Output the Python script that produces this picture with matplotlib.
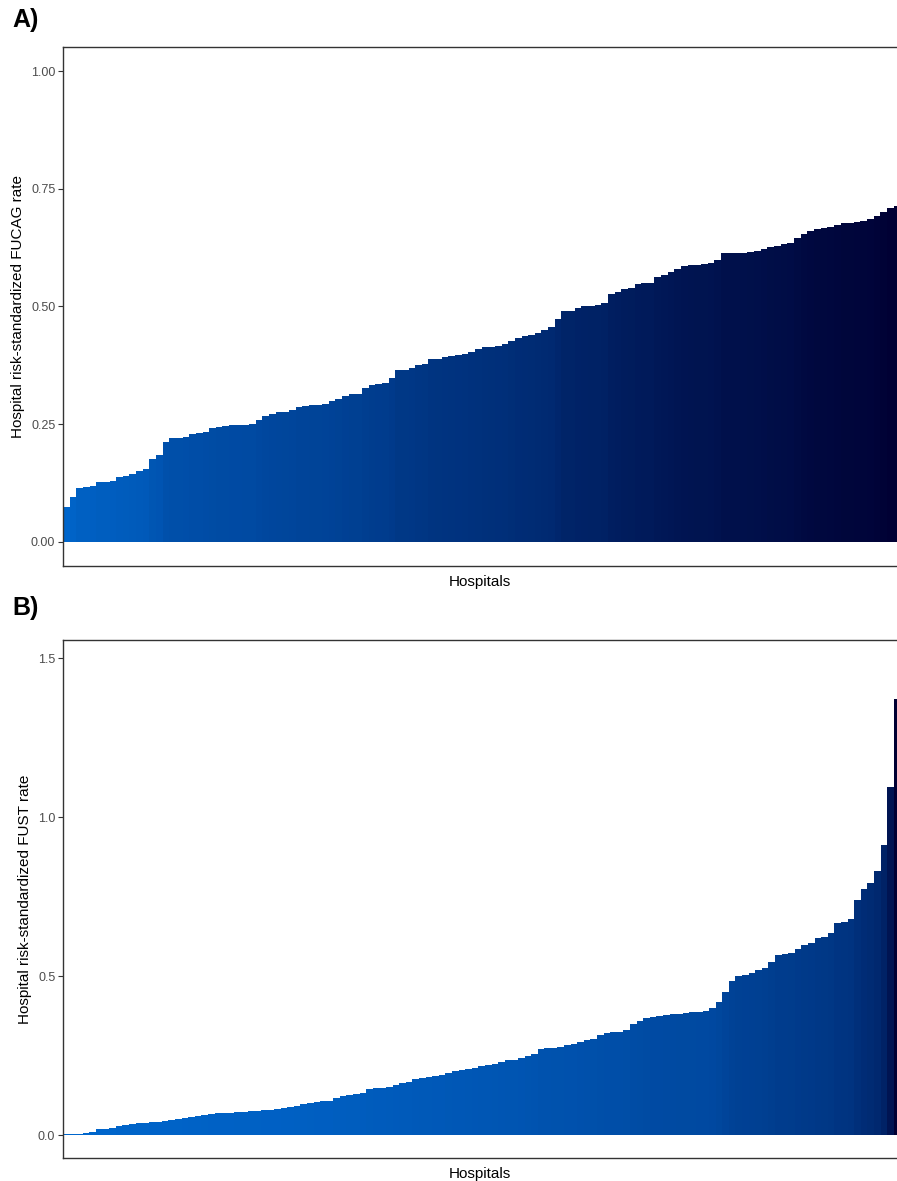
import numpy as np
import matplotlib
matplotlib.use("Agg")
import matplotlib.pyplot as plt
from matplotlib.colors import LinearSegmentedColormap, Normalize

plt.rcParams['font.family'] = ['Liberation Sans', 'DejaVu Sans']

# Panel A: hospital risk-standardized FUCAG rate (sorted)
fucag = [0.074, 0.096, 0.114, 0.116, 0.118, 0.127, 0.128, 0.130, 0.137, 0.140,
         0.145, 0.151, 0.154, 0.177, 0.184, 0.213, 0.220, 0.221, 0.223, 0.229,
         0.231, 0.234, 0.241, 0.245, 0.246, 0.248, 0.248, 0.249, 0.250, 0.260,
         0.268, 0.272, 0.275, 0.277, 0.280, 0.287, 0.289, 0.290, 0.291, 0.293,
         0.299, 0.303, 0.310, 0.314, 0.314, 0.326, 0.333, 0.335, 0.337, 0.348,
         0.366, 0.366, 0.369, 0.375, 0.377, 0.388, 0.389, 0.393, 0.395, 0.398,
         0.400, 0.404, 0.409, 0.413, 0.415, 0.417, 0.420, 0.427, 0.434, 0.438,
         0.440, 0.444, 0.450, 0.456, 0.473, 0.490, 0.491, 0.497, 0.500, 0.502,
         0.503, 0.507, 0.526, 0.531, 0.537, 0.539, 0.547, 0.549, 0.550, 0.563,
         0.567, 0.574, 0.580, 0.586, 0.588, 0.589, 0.590, 0.593, 0.599, 0.613,
         0.613, 0.613, 0.613, 0.616, 0.618, 0.622, 0.627, 0.629, 0.632, 0.635,
         0.645, 0.654, 0.660, 0.664, 0.666, 0.668, 0.672, 0.677, 0.677, 0.680,
         0.682, 0.686, 0.693, 0.700, 0.709, 0.714]

# Panel B: hospital risk-standardized FUST rate (sorted)
fust = [0.002, 0.003, 0.004, 0.008, 0.011, 0.018, 0.018, 0.023, 0.029, 0.031,
        0.035, 0.037, 0.039, 0.041, 0.042, 0.043, 0.047, 0.050, 0.054, 0.056,
        0.059, 0.063, 0.067, 0.069, 0.070, 0.071, 0.073, 0.074, 0.075, 0.076,
        0.078, 0.080, 0.082, 0.084, 0.087, 0.090, 0.097, 0.100, 0.105, 0.107,
        0.107, 0.118, 0.123, 0.126, 0.128, 0.131, 0.144, 0.149, 0.149, 0.152,
        0.159, 0.164, 0.167, 0.177, 0.180, 0.183, 0.186, 0.188, 0.196, 0.201,
        0.204, 0.208, 0.212, 0.217, 0.220, 0.224, 0.230, 0.235, 0.235, 0.241,
        0.248, 0.254, 0.270, 0.273, 0.275, 0.277, 0.283, 0.285, 0.293, 0.298,
        0.302, 0.314, 0.322, 0.324, 0.325, 0.332, 0.350, 0.358, 0.369, 0.372,
        0.375, 0.378, 0.380, 0.382, 0.385, 0.386, 0.388, 0.390, 0.400, 0.420,
        0.451, 0.484, 0.500, 0.505, 0.511, 0.518, 0.526, 0.544, 0.566, 0.568,
        0.573, 0.586, 0.597, 0.605, 0.619, 0.623, 0.636, 0.668, 0.670, 0.681,
        0.738, 0.775, 0.793, 0.832, 0.912, 1.094, 1.370]

cmap = LinearSegmentedColormap.from_list("blues", ["#0066CC", "#000033"])

fig = plt.figure(figsize=(8.97, 11.81), dpi=100)
W, H = 897.0, 1181.0


def panel(vals, top, bottom, ylim, ticks, ticklabels, ylabel, tag, tag_y):
    vals = np.array(vals)
    n = len(vals)
    left = 63.0
    # last bar cut in half by the image edge
    bw = (W - left) / (n - 0.5)
    ax = fig.add_axes([left / W, 1 - bottom / H, (n * bw) / W, (bottom - top) / H])
    norm = Normalize(vals.min(), vals.max())
    ax.bar(np.arange(n), vals, width=1.0, color=cmap(norm(vals)), linewidth=0)
    ax.set_xlim(-0.5, n - 0.5)
    ax.set_ylim(*ylim)
    ax.set_yticks(ticks)
    ax.set_yticklabels(ticklabels)
    ax.set_xticks([])
    for s in ax.spines.values():
        s.set_color("#333333")
        s.set_linewidth(1.0)
    ax.tick_params(axis="y", length=3.5, width=0.8, color="#333333",
                   labelsize=9, labelcolor="#4D4D4D", pad=2)
    ax.set_ylabel(ylabel, fontsize=11, labelpad=4)
    fig.text(480 / W, 1 - (bottom + 16) / H, "Hospitals", fontsize=11,
             ha="center", va="center")
    fig.text(12 / W, 1 - tag_y / H, tag, fontsize=18, fontweight="bold",
             ha="left", va="center")
    return ax


panel(fucag, 47, 566, (-0.051, 1.051), [0, 0.25, 0.5, 0.75, 1.0],
      ["0.00", "0.25", "0.50", "0.75", "1.00"],
      "Hospital risk-standardized FUCAG rate", "A)", 20)
panel(fust, 640, 1158, (-0.072, 1.557), [0, 0.5, 1.0, 1.5],
      ["0.0", "0.5", "1.0", "1.5"],
      "Hospital risk-standardized FUST rate", "B)", 608)

fig.savefig("out.png", dpi=100)
